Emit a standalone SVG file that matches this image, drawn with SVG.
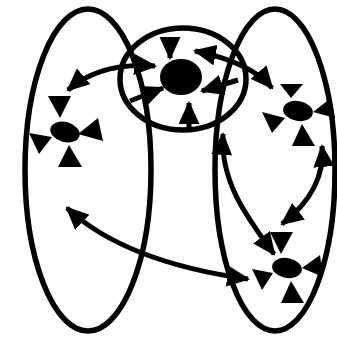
<svg xmlns="http://www.w3.org/2000/svg" width="337" height="346" viewBox="0 0 337 346">
<defs>
<style>
.ring{fill:none;stroke:#000;stroke-width:5.5}
.edge{fill:none;stroke:#000;stroke-width:5}
.blob{fill:#000}
.tri{fill:#000}
</style>
<marker id="ah" viewBox="0 0 22 20" refX="20" refY="10" markerWidth="23" markerHeight="21" markerUnits="userSpaceOnUse" orient="auto-start-reverse">
<path d="M0,0 L22,10 L0,20 z" fill="#000"/>
</marker>
</defs>
<rect width="337" height="346" fill="#fff"/>
<g id="groups">
<ellipse id="left-group" class="ring" cx="88" cy="170" rx="63" ry="161"/>
<ellipse id="right-group" class="ring" cx="275" cy="170" rx="60" ry="161"/>
<ellipse id="center-group" class="ring" cx="183" cy="79" rx="63" ry="51"/>
</g>
<g id="connectors">
<path class="edge" d="M170,37 L170,58" marker-end="url(#ah)"/>
<path class="edge" d="M189,130 L189,103" marker-end="url(#ah)"/>
<path class="edge" d="M130,101 L163,88" marker-end="url(#ah)"/>
<path class="edge" d="M238,80 L202,91" marker-end="url(#ah)"/>
<path class="edge" d="M195,51 Q250,62 272,88" marker-start="url(#ah)" marker-end="url(#ah)"/>
<path class="edge" d="M68,90 Q100,62 155,66" marker-start="url(#ah)" marker-end="url(#ah)"/>
<path class="edge" d="M223,134 C220,180 245,215 274,254" marker-start="url(#ah)" marker-end="url(#ah)"/>
<path class="edge" d="M322,146 Q326,190 282,224" marker-start="url(#ah)" marker-end="url(#ah)"/>
<path class="edge" d="M67,208 Q125,262 248,279" marker-start="url(#ah)" marker-end="url(#ah)"/>
</g>
<g id="node-center">
<ellipse class="blob" cx="181" cy="77" rx="21" ry="18"/>
</g>
<g id="node-left">
<ellipse class="blob" cx="65" cy="132" rx="15" ry="10" transform="rotate(15 65 132)"/>
<polygon class="tri" points="48,96 71,96 60,118"/>
<polygon class="tri" points="78,134 98,118 103,141"/>
<polygon class="tri" points="29,133 52,137 39,154"/>
<polygon class="tri" points="69,145 58,167 82,167"/>
</g>
<g id="node-right-top">
<ellipse class="blob" cx="298" cy="111" rx="15" ry="10" transform="rotate(10 298 111)"/>
<polygon class="tri" points="280,84 303,84 291,98"/>
<polygon class="tri" points="313,112 331,98 335,118"/>
<polygon class="tri" points="262,112 285,118 272,133"/>
<polygon class="tri" points="302,124 292,146 315,146"/>
</g>
<g id="node-right-bottom">
<ellipse class="blob" cx="287" cy="268" rx="15" ry="10" transform="rotate(10 287 268)"/>
<polygon class="tri" points="270,232 293,232 281,254"/>
<polygon class="tri" points="302,268 320,255 323,277"/>
<polygon class="tri" points="252,269 273,273 262,290"/>
<polygon class="tri" points="291,281 281,303 304,303"/>
</g>
</svg>
